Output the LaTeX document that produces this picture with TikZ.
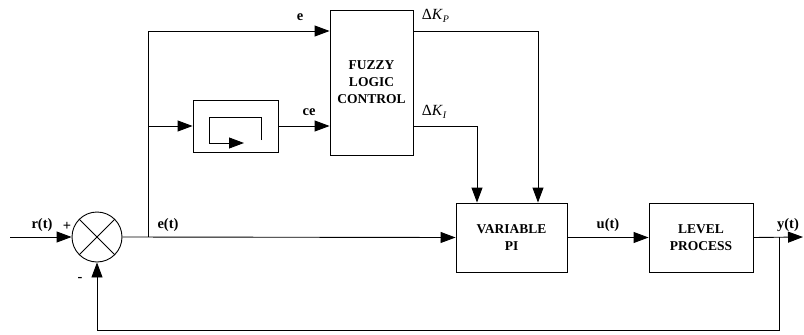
\documentclass[tikz,border=0pt]{standalone}
\usepackage{fontspec}
\setmainfont{Liberation Serif}
\usetikzlibrary{arrows.meta, calc}

\begin{document}
\begin{tikzpicture}[x=1pt, y=-1pt, >={Triangle[length=15pt, width=11pt]}, line width=0.9pt,
  block/.style={draw, inner sep=0pt, font=\fontsize{13.5}{17}\selectfont\bfseries,
                align=center},
  sum/.style={draw, circle, inner sep=0pt, minimum size=50pt},
  sig/.style={font=\fontsize{14.5}{16}\selectfont\bfseries},
  gain/.style={font=\fontsize{15.5}{16}\selectfont, anchor=west}]
  \useasboundingbox (0,0) rectangle (804,335);
  \node[sum] (S) at (97,237) {};
  \node[block, minimum width=85pt, minimum height=52pt] (D) at (235.5,126) {};
  \node[block, minimum width=83pt, minimum height=145pt] (F) at (371.5,82.5) {FUZZY\\LOGIC\\CONTROL};
  \node[block, minimum width=111pt, minimum height=69pt] (V) at (511.5,237.5) {VARIABLE\\PI};
  \node[block, minimum width=104pt, minimum height=69pt] (P) at (701,237.5) {LEVEL\\PROCESS};
  \coordinate (in) at (10,237);
  \coordinate (br) at (148,237);
  \coordinate (eup) at (148,31);
  \coordinate (ce) at (148,126);
  \coordinate (kp) at (538,31);
  \coordinate (ki) at (477,126);
  \coordinate (yb) at (779,237);
  \coordinate (out) at (803,237);
  \coordinate (fb) at (779,330);
  % Summing junction cross
  \draw (S.45) -- (S.225);
  \draw (S.135) -- (S.315);
  % Derivative symbol
  \draw ($(D)+(25.5,14)$) -- ($(D)+(25.5,-9)$) -- ($(D)+(-26.5,-9)$) -- ($(D)+(-26.5,17)$);
  \draw[->] ($(D)+(-26.5,17)$) -- ($(D)+(8.5,17)$);
  % Forward path
  \draw[->] (in) -- (S.west);
  \draw[->] (S.east) -- (V.west);
  \draw[->] (V.east) -- (P.west);
  \draw[->] (P.east) -- (out);
  % Fuzzy inputs
  \draw[->] (br) -- (eup) -- (eup -| F.west);
  \draw[->] (ce) -- (D.west);
  \draw[->] (D.east) -- (ce -| F.west);
  % Gain updates
  \draw[->] (kp -| F.east) -- (kp) -- (kp |- V.north);
  \draw[->] (ki -| F.east) -- (ki) -- (ki |- V.north);
  % Feedback
  \draw[->] (yb) -- (fb) -| (S.south);
  % Labels
  \node[sig] (rt) at (42,225) {r(t)};
  \node[sig] (plus) at (67,226) {+};
  \node[sig] (minus) at (80,279) {-};
  \node[sig] (et) at (168,225) {e(t)};
  \node[sig] (el) at (300,17) {e};
  \node[sig] (cel) at (309,112) {ce};
  \node[gain] (kpl) at (418,16) {Δ\textit{K}\raisebox{-3pt}{\fontsize{10}{10}\selectfont\textit{P}}};
  \node[gain] (kil) at (418,112) {Δ\textit{K}\raisebox{-3pt}{\fontsize{10}{10}\selectfont\textit{I}}};
  \node[sig] (ut) at (608,225) {u(t)};
  \node[sig] (yt) at (788,225) {y(t)};
\end{tikzpicture}
\end{document}
